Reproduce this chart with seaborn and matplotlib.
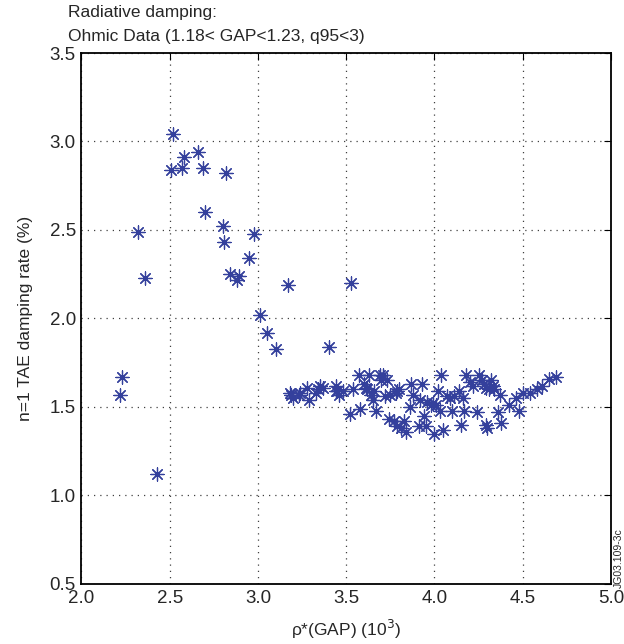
import matplotlib
matplotlib.use('Agg')
import pandas as pd
import seaborn as sns
import matplotlib.pyplot as plt

# values
rho_gap = [2.22, 2.23, 2.32, 2.36, 2.43, 2.52, 2.51, 2.57, 2.58, 2.66,
           2.69, 2.70, 2.82, 2.80, 2.81, 2.84, 2.88, 2.89, 2.95, 2.98,
           3.01, 3.05, 3.10, 3.17, 3.40, 3.53, 3.18, 3.19, 3.20, 3.23,
           3.24, 3.28, 3.29, 3.33, 3.34, 3.35, 3.37, 3.44, 3.44, 3.45,
           3.46, 3.48, 3.52, 3.54, 3.57, 3.58, 3.60, 3.61, 3.62, 3.63,
           3.64, 3.65, 3.66, 3.67, 3.69, 3.70, 3.71, 3.72, 3.73, 3.74,
           3.75, 3.77, 3.78, 3.79, 3.79, 3.80, 3.81, 3.83, 3.84, 3.86,
           3.87, 3.88, 3.91, 3.92, 3.93, 3.94, 3.95, 3.96, 3.98, 3.99,
           4.00, 4.01, 4.02, 4.03, 4.04, 4.05, 4.07, 4.09, 4.10, 4.11,
           4.14, 4.15, 4.16, 4.17, 4.18, 4.20, 4.22, 4.24, 4.25, 4.27,
           4.28, 4.29, 4.29, 4.30, 4.31, 4.32, 4.33, 4.34, 4.36, 4.37,
           4.38, 4.42, 4.46, 4.48, 4.50, 4.54, 4.58, 4.61, 4.65, 4.69]
damping = [1.57, 1.67, 2.49, 2.23, 1.12, 3.04, 2.84, 2.85, 2.91, 2.94,
           2.85, 2.60, 2.82, 2.52, 2.43, 2.25, 2.22, 2.24, 2.34, 2.48,
           2.02, 1.92, 1.83, 2.19, 1.84, 2.20, 1.58, 1.57, 1.55, 1.57,
           1.58, 1.61, 1.54, 1.58, 1.60, 1.62, 1.61, 1.62, 1.59, 1.59,
           1.57, 1.59, 1.46, 1.60, 1.68, 1.49, 1.63, 1.61, 1.60, 1.68,
           1.57, 1.54, 1.59, 1.48, 1.68, 1.65, 1.68, 1.56, 1.65, 1.43,
           1.57, 1.42, 1.58, 1.59, 1.39, 1.60, 1.38, 1.42, 1.36, 1.50,
           1.63, 1.57, 1.39, 1.54, 1.63, 1.45, 1.39, 1.53, 1.51, 1.52,
           1.35, 1.51, 1.59, 1.48, 1.68, 1.37, 1.56, 1.55, 1.48, 1.56,
           1.59, 1.40, 1.55, 1.48, 1.68, 1.64, 1.62, 1.47, 1.68, 1.65,
           1.63, 1.61, 1.40, 1.38, 1.60, 1.65, 1.62, 1.60, 1.47, 1.57,
           1.41, 1.51, 1.55, 1.48, 1.58, 1.58, 1.60, 1.62, 1.66, 1.67]
ticks_x = [2.0, 2.5, 3.0, 3.5, 4.0, 4.5, 5.0]
ticks_y = [0.5, 1.0, 1.5, 2.0, 2.5, 3.0, 3.5]

df = pd.DataFrame({'rho': rho_gap, 'gamma': damping})

sns.set_style('white')
plt.rcParams['font.family'] = ['Liberation Sans', 'DejaVu Sans']

fig = plt.figure(figsize=(6.24, 6.44), dpi=100)
ax = fig.add_axes([0.1306, 0.0932, 0.8484, 0.8245])

sns.scatterplot(data=df, x='rho', y='gamma', ax=ax, marker=(8, 2, 0),
                color='#34409C', s=90, linewidth=0.9, zorder=3)

ax.set_xlim(2.0, 5.0)
ax.set_ylim(0.5, 3.5)
ax.set_xticks(ticks_x)
ax.set_yticks(ticks_y)
ax.set_xticklabels([f'{t:.1f}' for t in ticks_x], fontsize=13.5)
ax.set_yticklabels([f'{t:.1f}' for t in ticks_y], fontsize=13.5)
ax.tick_params(direction='in', length=5, width=0.8, top=True, right=True,
               color='black', pad=4)
ax.grid(True, linestyle=(0, (1, 4)), color='0.25', linewidth=0.9)
for sp in ax.spines.values():
    sp.set_color('black')
    sp.set_linewidth(1.3)

ax.set_xlabel('ρ*(GAP) (10$^3$)', fontsize=12.5, labelpad=8)
ax.set_ylabel('n=1 TAE damping rate (%)', fontsize=12.5, labelpad=12)

fig.text(68 / 624, 1 - 13 / 644, 'Radiative damping:', fontsize=12.5,
         ha='left', va='center')
fig.text(68 / 624, 1 - 37 / 644, 'Ohmic Data (1.18< GAP<1.23, q95<3)',
         fontsize=12.5, ha='left', va='center')
fig.text(619 / 624, 1 - 558 / 644, 'JG03.109-3c', fontsize=7.5,
         rotation=90, ha='center', va='center')

plt.savefig('out.png', dpi=100)
